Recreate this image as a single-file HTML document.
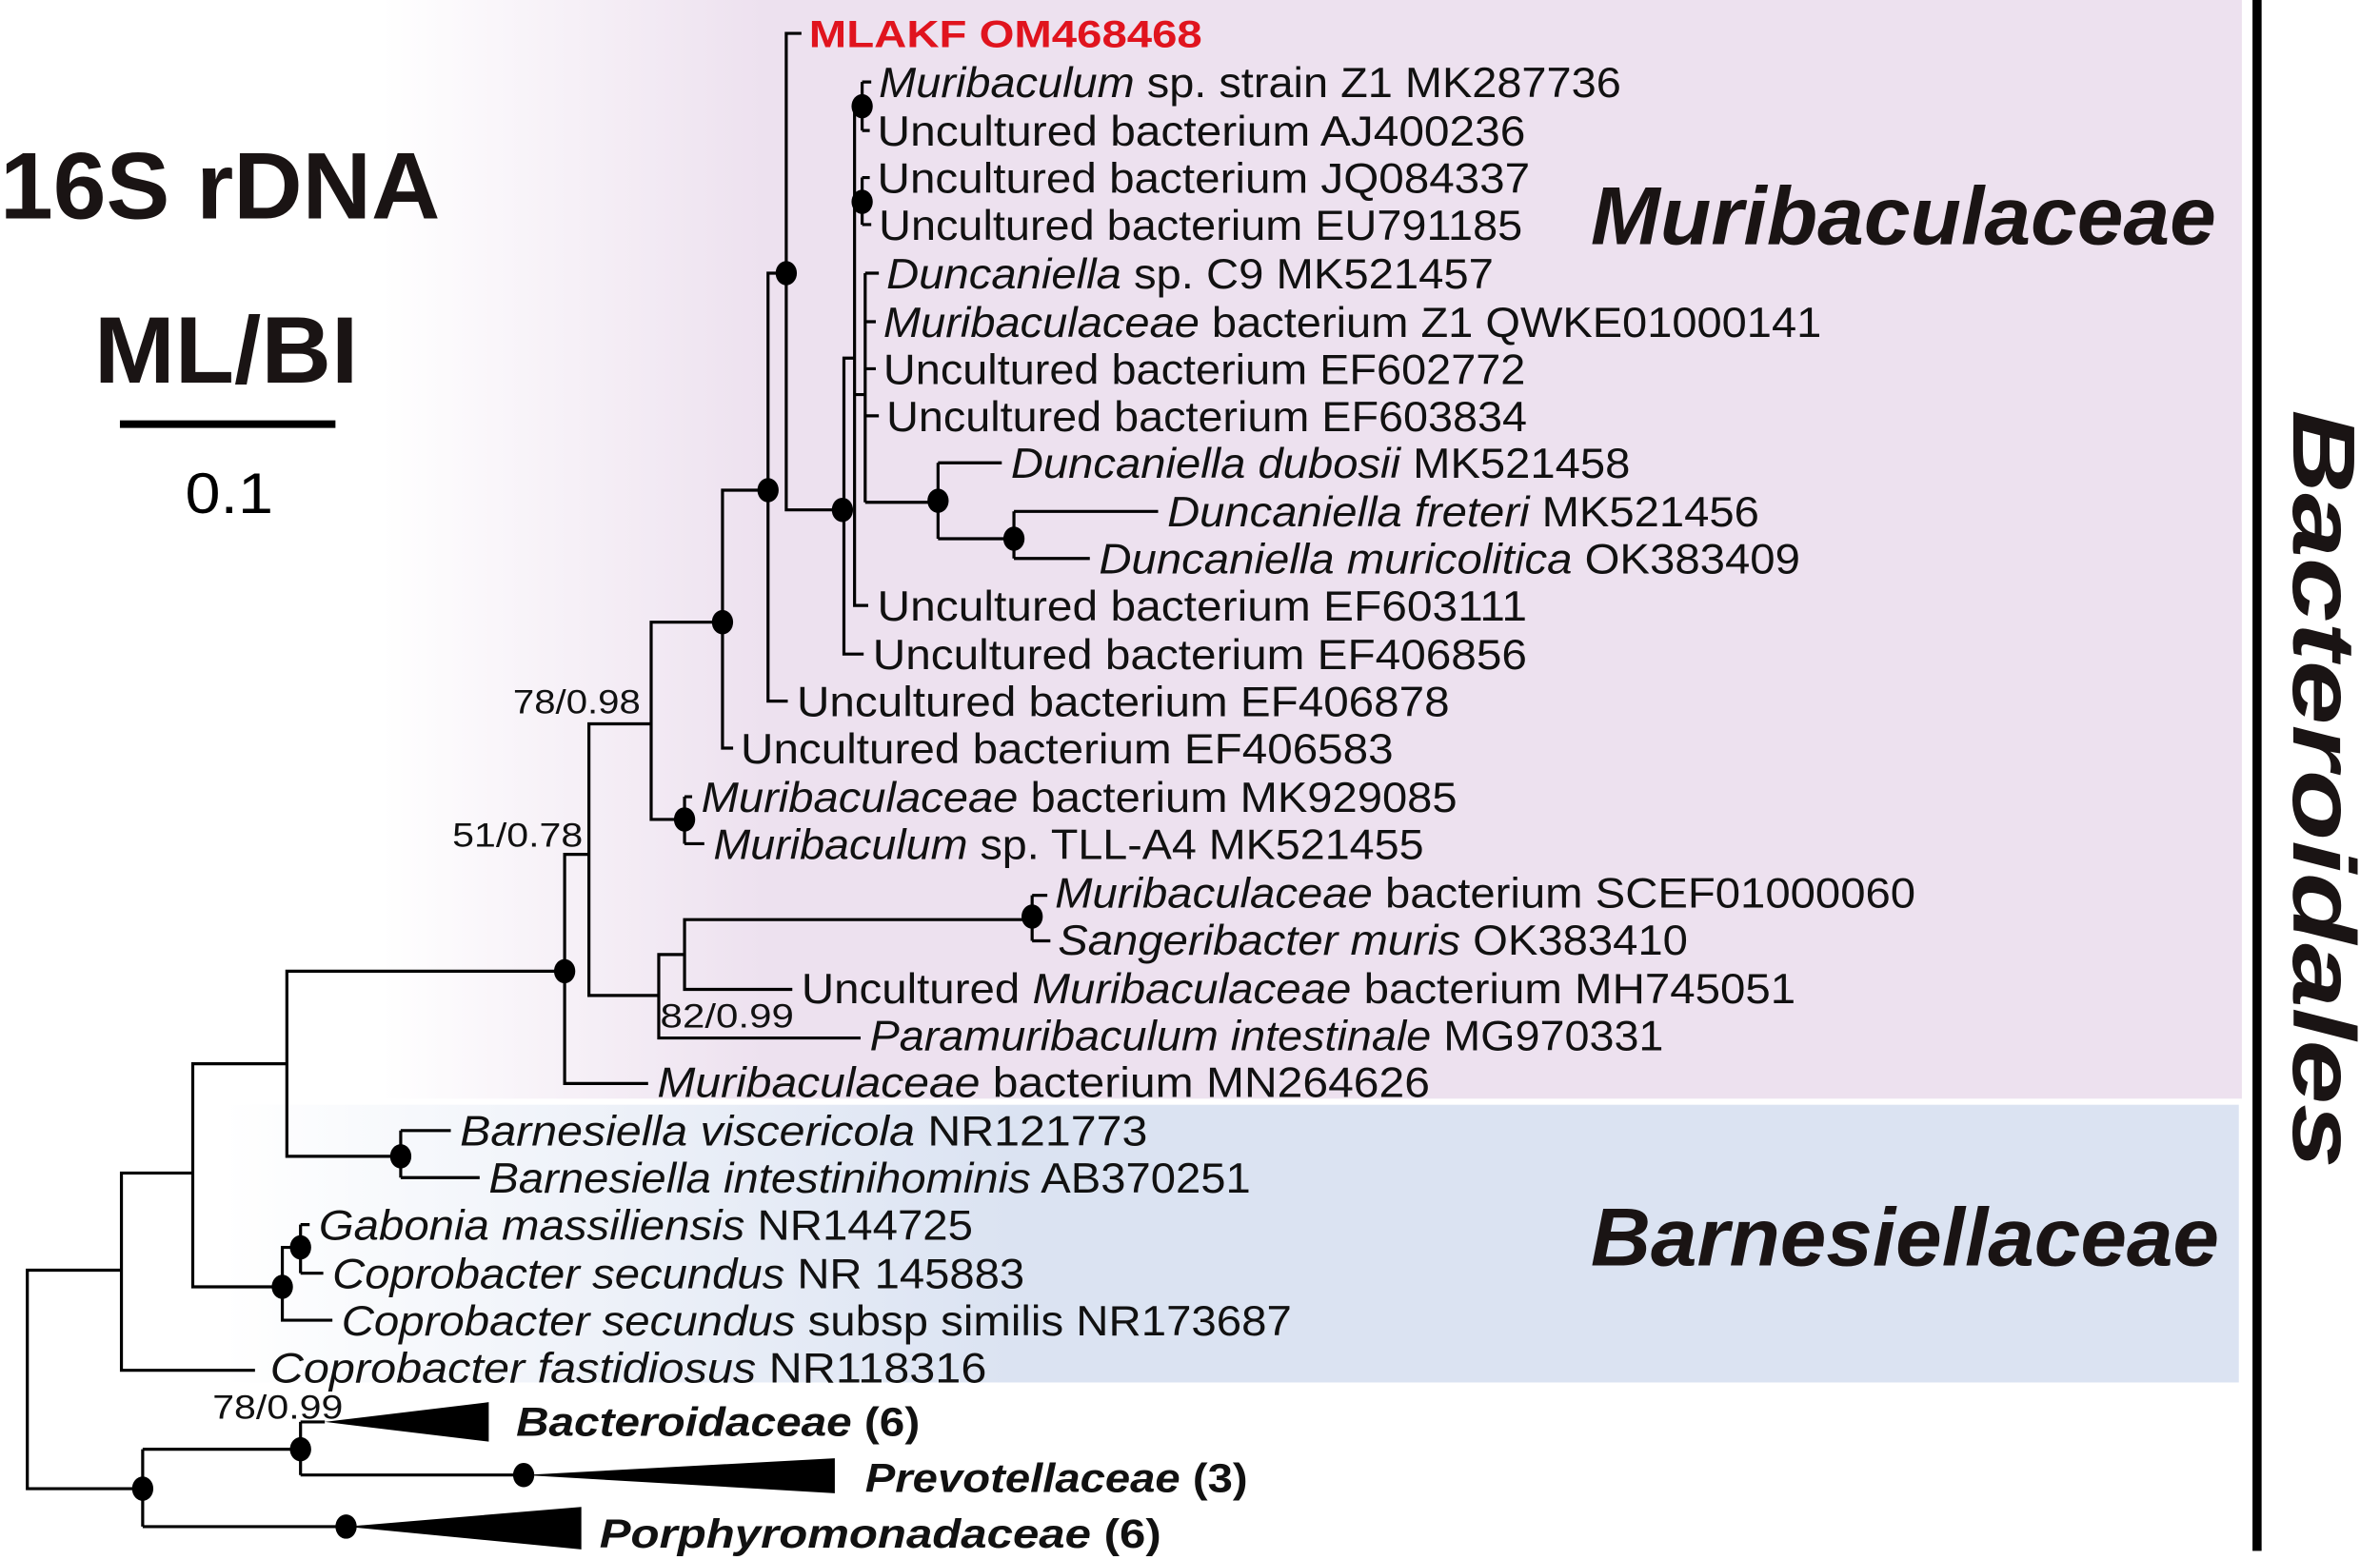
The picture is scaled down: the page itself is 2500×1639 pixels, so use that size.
<!DOCTYPE html>
<html><head><meta charset="utf-8"><style>html,body{margin:0;padding:0;background:#fff}svg{display:block}</style></head>
<body>
<svg xmlns="http://www.w3.org/2000/svg" width="2500" height="1639" viewBox="0 0 1568 1028" preserveAspectRatio="none" font-family="Liberation Sans, Arial, sans-serif">
<defs>
<linearGradient id="gp" x1="0" x2="1" y1="0" y2="0">
<stop offset="0.17" stop-color="#ffffff"/><stop offset="0.34" stop-color="#ede1ef"/><stop offset="1" stop-color="#ede1ef"/></linearGradient>
<linearGradient id="gb" x1="0" x2="1" y1="0" y2="0">
<stop offset="0.1" stop-color="#ffffff"/><stop offset="0.45" stop-color="#dbe3f2"/><stop offset="1" stop-color="#dbe3f2"/></linearGradient>
</defs>
<rect x="0" y="0" width="1477" height="724" fill="url(#gp)"/>
<rect x="0" y="728" width="1475" height="183" fill="url(#gb)"/>
<rect x="1484" y="0" width="6" height="1022" fill="#000"/>

<g fill="#1a1414" font-weight="bold">
<text x="0" y="144" font-size="62" textLength="290" lengthAdjust="spacingAndGlyphs">16S rDNA</text>
<text x="62" y="252" font-size="62" textLength="174" lengthAdjust="spacingAndGlyphs">ML/BI</text>
<text x="1048" y="161" font-size="54" font-style="italic" textLength="412" lengthAdjust="spacingAndGlyphs">Muribaculaceae</text>
<text x="1048" y="834" font-size="54" font-style="italic" textLength="414" lengthAdjust="spacingAndGlyphs">Barnesiellaceae</text>
<text transform="translate(1511,270) rotate(90)" x="0" y="0" font-size="58" font-style="italic" textLength="500" lengthAdjust="spacingAndGlyphs">Bacteroidales</text>
</g>
<rect x="79" y="277" width="142" height="5" fill="#000"/>
<text x="122" y="338" font-size="38" textLength="58" lengthAdjust="spacingAndGlyphs">0.1</text>

<g stroke="#000" stroke-width="2" fill="none">
<path d="M80,837 H18 V981 H94"/>
<path d="M127,773 H80 V903 H168"/>
<path d="M189,701 H127 V848 H186"/>
<path d="M372,640 H189 V762 H264"/>
<path d="M264,745 V776 M264,745 H297 M264,776 H316"/>
<path d="M198,822 H186 V870 H219"/>
<path d="M198,807 V839 M198,807 H204 M198,839 H213"/>
<path d="M388,563 H372 V714 H427"/>
<path d="M434,656 H388 V477 H429"/>
<path d="M476,410 H429 V540 H451"/>
<path d="M451,525 V556 M451,525 H456 M451,556 H464"/>
<path d="M451,629 H434 V684 H567"/>
<path d="M680,606 H451 V652 H522"/>
<path d="M680,590 V620 M680,590 H690 M680,620 H692"/>
<path d="M506,323 H476 V493 H483"/>
<path d="M518,180 H506 V462 H519"/>
<path d="M528,22 H518 V336 H556"/>
<path d="M563,236 H556 V431 H569"/>
<path d="M568,70 H563 V399 H572"/>
<path d="M563,133 H568"/>
<path d="M568,54 V86 M568,54 H574 M568,86 H573"/>
<path d="M568,117 V148 M568,117 H573 M568,148 H574"/>
<path d="M563,260 H570 M570,180 V331 M570,180 H579 M570,212 H577 M570,243 H577 M570,274 H579 M570,331 H618"/>
<path d="M618,305 V355 M618,305 H660 M618,355 H668"/>
<path d="M668,337 V368 M668,337 H763 M668,368 H718"/>
<path d="M94,955 V1006 M94,955 H198 M94,1006 H228"/>
<path d="M198,937 V972 M198,937 H214 M198,972 H345"/>
</g>
<g fill="#000">
<polygon points="214,937 322,924 322,950"/>
<polygon points="345,972 550,961 550,984"/>
<polygon points="228,1006 383,993 383,1021"/>
<ellipse cx="94" cy="981" rx="7" ry="8"/>
<ellipse cx="198" cy="955" rx="7" ry="8"/>
<ellipse cx="345" cy="972" rx="7" ry="8"/>
<ellipse cx="228" cy="1006" rx="7" ry="8"/>
<ellipse cx="186" cy="848" rx="7" ry="8"/>
<ellipse cx="198" cy="822" rx="7" ry="8"/>
<ellipse cx="264" cy="762" rx="7" ry="8"/>
<ellipse cx="372" cy="640" rx="7" ry="8"/>
<ellipse cx="451" cy="540" rx="7" ry="8"/>
<ellipse cx="680" cy="604" rx="7" ry="8"/>
<ellipse cx="476" cy="410" rx="7" ry="8"/>
<ellipse cx="506" cy="323" rx="7" ry="8"/>
<ellipse cx="518" cy="180" rx="7" ry="8"/>
<ellipse cx="555" cy="336" rx="7" ry="8"/>
<ellipse cx="568" cy="70" rx="7" ry="8"/>
<ellipse cx="568" cy="133" rx="7" ry="8"/>
<ellipse cx="618" cy="330" rx="7" ry="8"/>
<ellipse cx="668" cy="355" rx="7" ry="8"/>
</g>

<g font-size="22" fill="#111">
<text x="338" y="470" textLength="84" lengthAdjust="spacingAndGlyphs">78/0.98</text>
<text x="298" y="558" textLength="86" lengthAdjust="spacingAndGlyphs">51/0.78</text>
<text x="435" y="677" textLength="88" lengthAdjust="spacingAndGlyphs">82/0.99</text>
<text x="140" y="935" textLength="86" lengthAdjust="spacingAndGlyphs">78/0.99</text>
</g>

<text x="533" y="31" font-size="25" font-weight="bold" fill="#e0141e" textLength="259" lengthAdjust="spacingAndGlyphs">MLAKF OM468468</text>

<g font-size="28" fill="#111">
<text x="579" y="64" textLength="489" lengthAdjust="spacingAndGlyphs"><tspan font-style="italic">Muribaculum</tspan> sp. strain Z1 MK287736</text>
<text x="578" y="96" textLength="427" lengthAdjust="spacingAndGlyphs">Uncultured bacterium  AJ400236</text>
<text x="578" y="127" textLength="430" lengthAdjust="spacingAndGlyphs">Uncultured bacterium  JQ084337</text>
<text x="579" y="158" textLength="424" lengthAdjust="spacingAndGlyphs">Uncultured bacterium EU791185</text>
<text x="584" y="190" textLength="400" lengthAdjust="spacingAndGlyphs"><tspan font-style="italic">Duncaniella</tspan> sp. C9 MK521457</text>
<text x="582" y="222" textLength="618" lengthAdjust="spacingAndGlyphs"><tspan font-style="italic">Muribaculaceae</tspan> bacterium Z1 QWKE01000141</text>
<text x="582" y="253" textLength="423" lengthAdjust="spacingAndGlyphs">Uncultured bacterium EF602772</text>
<text x="584" y="284" textLength="422" lengthAdjust="spacingAndGlyphs">Uncultured bacterium EF603834</text>
<text x="666" y="315" textLength="408" lengthAdjust="spacingAndGlyphs"><tspan font-style="italic">Duncaniella dubosii</tspan> MK521458</text>
<text x="769" y="347" textLength="390" lengthAdjust="spacingAndGlyphs"><tspan font-style="italic">Duncaniella freteri</tspan> MK521456</text>
<text x="724" y="378" textLength="462" lengthAdjust="spacingAndGlyphs"><tspan font-style="italic">Duncaniella muricolitica</tspan> OK383409</text>
<text x="578" y="409" textLength="428" lengthAdjust="spacingAndGlyphs">Uncultured bacterium  EF603111</text>
<text x="575" y="441" textLength="431" lengthAdjust="spacingAndGlyphs">Uncultured bacterium  EF406856</text>
<text x="525" y="472" textLength="430" lengthAdjust="spacingAndGlyphs">Uncultured bacterium  EF406878</text>
<text x="488" y="503" textLength="430" lengthAdjust="spacingAndGlyphs">Uncultured bacterium  EF406583</text>
<text x="462" y="535" textLength="498" lengthAdjust="spacingAndGlyphs"><tspan font-style="italic">Muribaculaceae</tspan> bacterium MK929085</text>
<text x="470" y="566" textLength="468" lengthAdjust="spacingAndGlyphs"><tspan font-style="italic">Muribaculum</tspan> sp. TLL-A4 MK521455</text>
<text x="695" y="598" textLength="567" lengthAdjust="spacingAndGlyphs"><tspan font-style="italic">Muribaculaceae</tspan> bacterium SCEF01000060</text>
<text x="697" y="629" textLength="415" lengthAdjust="spacingAndGlyphs"><tspan font-style="italic">Sangeribacter muris</tspan> OK383410</text>
<text x="528" y="661" textLength="655" lengthAdjust="spacingAndGlyphs">Uncultured <tspan font-style="italic">Muribaculaceae</tspan> bacterium  MH745051</text>
<text x="573" y="692" textLength="523" lengthAdjust="spacingAndGlyphs"><tspan font-style="italic">Paramuribaculum intestinale</tspan> MG970331</text>
<text x="433" y="723" textLength="509" lengthAdjust="spacingAndGlyphs"><tspan font-style="italic">Muribaculaceae</tspan> bacterium  MN264626</text>
<text x="303" y="755" textLength="453" lengthAdjust="spacingAndGlyphs"><tspan font-style="italic">Barnesiella viscericola</tspan> NR121773</text>
<text x="322" y="786" textLength="502" lengthAdjust="spacingAndGlyphs"><tspan font-style="italic">Barnesiella intestinihominis</tspan> AB370251</text>
<text x="210" y="817" textLength="431" lengthAdjust="spacingAndGlyphs"><tspan font-style="italic">Gabonia massiliensis</tspan> NR144725</text>
<text x="219" y="849" textLength="456" lengthAdjust="spacingAndGlyphs"><tspan font-style="italic">Coprobacter secundus</tspan> NR 145883</text>
<text x="225" y="880" textLength="626" lengthAdjust="spacingAndGlyphs"><tspan font-style="italic">Coprobacter secundus</tspan> subsp similis NR173687</text>
<text x="178" y="911" textLength="472" lengthAdjust="spacingAndGlyphs"><tspan font-style="italic">Coprobacter fastidiosus</tspan>  NR118316</text>
</g>

<g font-size="27" font-weight="bold" fill="#111">
<text x="340" y="946" textLength="266" lengthAdjust="spacingAndGlyphs"><tspan font-style="italic">Bacteroidaceae</tspan> (6)</text>
<text x="570" y="983" textLength="252" lengthAdjust="spacingAndGlyphs"><tspan font-style="italic">Prevotellaceae</tspan> (3)</text>
<text x="395" y="1020" textLength="370" lengthAdjust="spacingAndGlyphs"><tspan font-style="italic">Porphyromonadaceae</tspan> (6)</text>
</g>
</svg>
</body></html>
